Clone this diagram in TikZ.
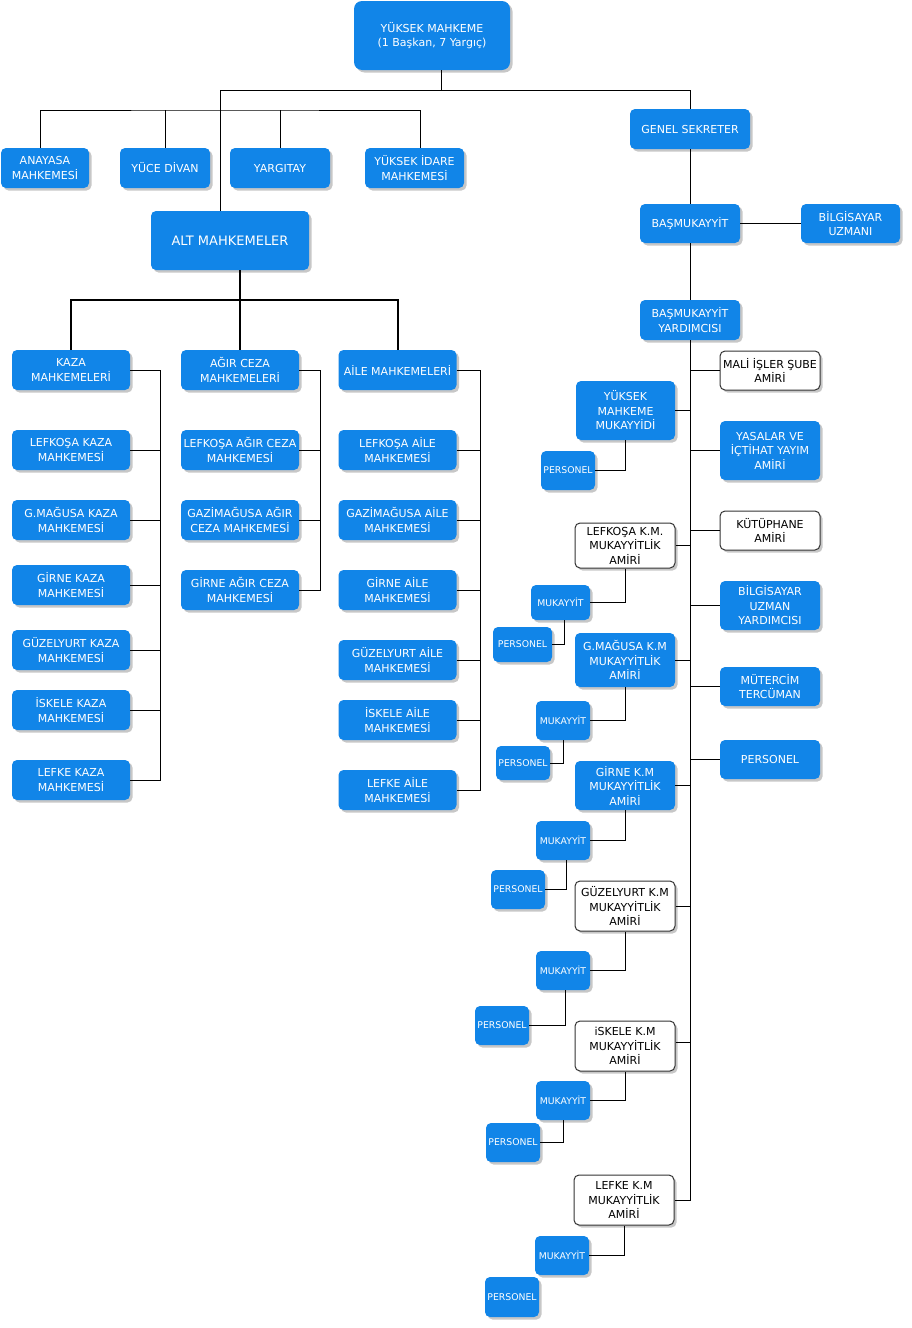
\documentclass[tikz,border=0pt]{standalone}
\usepackage{fontspec}
\setmainfont{DejaVu Sans}
\usepackage{tikz}
\usetikzlibrary{shadows}
\definecolor{boxblue}{HTML}{1185E8}
\definecolor{boxedge}{HTML}{333333}
\tikzset{
  court/.style={rectangle, rounded corners=5pt, fill=boxblue, text=white, align=center, inner sep=0pt,
    font=\fontsize{11}{14.5}\selectfont,
    drop shadow={shadow xshift=2.5pt, shadow yshift=-2.5pt, fill=black, opacity=0.22}},
  wbox/.style={court, fill=white, draw=boxedge, line width=1pt, text=black},
  col/.style={minimum width=118pt, minimum height=40pt},
  side/.style={minimum width=100pt},
  tiny/.style={court, font=\fontsize{9.3}{11}\selectfont, minimum width=54pt, minimum height=39pt},
  link/.style={draw=black, line width=1pt},
  heavy/.style={draw=black, line width=2pt}
}

\begin{document}
\begin{tikzpicture}[x=1pt, y=-1pt]
  \fill[white] (0,0) rectangle (911,1328);
  \useasboundingbox (0,0) rectangle (911,1328);

  \node[court, rounded corners=8pt, minimum width=156pt, minimum height=69pt] (yuksek) at (432,35.5) {YÜKSEK MAHKEME\\(1 Başkan, 7 Yargıç)};
  \node[court, minimum width=88pt, minimum height=40pt] (anayasa) at (45,168) {ANAYASA\\MAHKEMESİ};
  \node[court, minimum width=90pt, minimum height=40pt] (yuce) at (165,168) {YÜCE DİVAN};
  \node[court, minimum width=100pt, minimum height=40pt] (yargitay) at (280,168) {YARGITAY};
  \node[court, minimum width=99pt, minimum height=40pt] (idare) at (414.5,168) {YÜKSEK İDARE\\MAHKEMESİ};
  \node[court, font=\fontsize{13}{16}\selectfont, minimum width=158pt, minimum height=59pt] (alt) at (230,240.5) {ALT MAHKEMELER};

  \node[court, col] (kaza) at (71,370) {KAZA\\MAHKEMELERİ};
  \node[court, col] (lefkosakaza) at (71,450) {LEFKOŞA KAZA\\MAHKEMESİ};
  \node[court, col] (magusakaza) at (71,520) {G.MAĞUSA KAZA\\MAHKEMESİ};
  \node[court, col] (girnekaza) at (71,585) {GİRNE KAZA\\MAHKEMESİ};
  \node[court, col] (guzelyurtkaza) at (71,650) {GÜZELYURT KAZA\\MAHKEMESİ};
  \node[court, col] (iskelekaza) at (71,710) {İSKELE KAZA\\MAHKEMESİ};
  \node[court, col] (lefkekaza) at (71,780) {LEFKE KAZA\\MAHKEMESİ};

  \node[court, col] (agir) at (240,370) {AĞIR CEZA\\MAHKEMELERİ};
  \node[court, col] (lefkosaagir) at (240,450) {LEFKOŞA AĞIR CEZA\\MAHKEMESİ};
  \node[court, col] (magusaagir) at (240,520) {GAZİMAĞUSA AĞIR\\CEZA MAHKEMESİ};
  \node[court, col] (girneagir) at (240,590) {GİRNE AĞIR CEZA\\MAHKEMESİ};

  \node[court, col] (aile) at (397.5,370) {AİLE MAHKEMELERİ};
  \node[court, col] (lefkosaaile) at (397.5,450) {LEFKOŞA AİLE\\MAHKEMESİ};
  \node[court, col] (magusaaile) at (397.5,520) {GAZİMAĞUSA AİLE\\MAHKEMESİ};
  \node[court, col] (girneaile) at (397.5,590) {GİRNE AİLE\\MAHKEMESİ};
  \node[court, col] (guzelyurtaile) at (397.5,660) {GÜZELYURT AİLE\\MAHKEMESİ};
  \node[court, col] (iskeleaile) at (397.5,720) {İSKELE AİLE\\MAHKEMESİ};
  \node[court, col] (lefkeaile) at (397.5,790) {LEFKE AİLE\\MAHKEMESİ};

  \node[court, minimum width=120pt, minimum height=40pt] (gensek) at (690,129) {GENEL SEKRETER};
  \node[court, side, minimum height=39pt] (basmuk) at (690,223.5) {BAŞMUKAYYİT};
  \node[court, minimum width=99pt, minimum height=39pt] (bilgi) at (850.5,223.5) {BİLGİSAYAR\\UZMANI};
  \node[court, side, minimum height=40pt] (basmukyrd) at (690,320) {BAŞMUKAYYİT\\YARDIMCISI};
  \node[wbox, side, minimum height=39pt] (mali) at (770,370.5) {MALİ İŞLER ŞUBE\\AMİRİ};
  \node[court, side, minimum height=59pt] (yasalar) at (770,450.5) {YASALAR VE\\İÇTİHAT YAYIM\\AMİRİ};
  \node[wbox, side, minimum height=39pt] (kutup) at (770,530.5) {KÜTÜPHANE\\AMİRİ};
  \node[court, side, minimum height=49pt] (bilgiyrd) at (770,605.5) {BİLGİSAYAR\\UZMAN\\YARDIMCISI};
  \node[court, side, minimum height=39pt] (mutercim) at (770,686.5) {MÜTERCİM\\TERCÜMAN};
  \node[court, side, minimum height=39pt] (personel) at (770,759.5) {PERSONEL};

  \node[court, minimum width=99pt, minimum height=59pt] (ymmuk) at (625.5,410.5) {YÜKSEK\\MAHKEME\\MUKAYYİDİ};
  \node[tiny] (ymper) at (568,470.5) {PERSONEL};
  \node[wbox, side, minimum height=45pt] (lefkm) at (625,545.5) {LEFKOŞA K.M.\\MUKAYYİTLİK\\AMİRİ};
  \node[tiny, minimum width=59pt, minimum height=35pt] (lefmuk) at (560.5,602.5) {MUKAYYİT};
  \node[tiny, minimum width=59pt, minimum height=35pt] (lefper) at (522.5,644.5) {PERSONEL};
  \node[court, side, minimum height=54pt] (gmkm) at (625,660) {G.MAĞUSA K.M\\MUKAYYİTLİK\\AMİRİ};
  \node[tiny] (gmmuk) at (563,720.5) {MUKAYYİT};
  \node[tiny, minimum height=34pt] (gmper) at (523,763) {PERSONEL};
  \node[court, side, minimum height=49pt] (gkm) at (625,785.5) {GİRNE K.M\\MUKAYYİTLİK\\AMİRİ};
  \node[tiny] (gmuk) at (563,840.5) {MUKAYYİT};
  \node[tiny] (gper) at (518,889.5) {PERSONEL};
  \node[wbox, side, minimum height=50pt] (guzkm) at (625,906) {GÜZELYURT K.M\\MUKAYYİTLİK\\AMİRİ};
  \node[tiny] (guzmuk) at (563,970.5) {MUKAYYİT};
  \node[tiny] (guzper) at (502,1025.5) {PERSONEL};
  \node[wbox, side, minimum height=50pt] (iskkm) at (625,1046) {iSKELE K.M\\MUKAYYİTLİK\\AMİRİ};
  \node[tiny] (iskmuk) at (563,1100.5) {MUKAYYİT};
  \node[tiny] (iskper) at (513,1142.5) {PERSONEL};
  \node[wbox, side, minimum height=50pt] (lefkekm) at (624,1200) {LEFKE K.M\\MUKAYYİTLİK\\AMİRİ};
  \node[tiny] (lefkemuk) at (562,1255.5) {MUKAYYİT};
  \node[tiny, minimum height=40pt] (lefkeper) at (512,1297) {PERSONEL};

  \coordinate (j1) at (441,90);
  \coordinate (j2) at (220,110);
  \coordinate (j3) at (240,300);
  \draw[link] ([xshift=9pt]yuksek.south) -- (j1) -| (gensek.north);
  \draw[link] (j1) -| ([xshift=-10pt]alt.north);
  \draw[link] ([xshift=-5pt]anayasa.north) |- (j2) -| ([xshift=5.5pt]idare.north);
  \draw[link] (yuce.north) -- (yuce.north |- j2);
  \draw[link] (yargitay.north) -- (yargitay.north |- j2);
  \draw[heavy] (agir.north) -- (agir.north |- alt.south);
  \draw[heavy] (kaza.north) |- (j3) -| (aile.north);

  \coordinate (kbus) at (160,370);
  \draw[link] (kaza.east) -- (kbus) |- (lefkekaza.east);
  \draw[link] (lefkosakaza.east) -- (lefkosakaza.east -| kbus);
  \draw[link] (magusakaza.east) -- (magusakaza.east -| kbus);
  \draw[link] (girnekaza.east) -- (girnekaza.east -| kbus);
  \draw[link] (guzelyurtkaza.east) -- (guzelyurtkaza.east -| kbus);
  \draw[link] (iskelekaza.east) -- (iskelekaza.east -| kbus);

  \coordinate (abus) at (320,370);
  \draw[link] (agir.east) -- (abus) |- (girneagir.east);
  \draw[link] (lefkosaagir.east) -- (lefkosaagir.east -| abus);
  \draw[link] (magusaagir.east) -- (magusaagir.east -| abus);

  \coordinate (fbus) at (480,370);
  \draw[link] (aile.east) -- (fbus) |- (lefkeaile.east);
  \draw[link] (lefkosaaile.east) -- (lefkosaaile.east -| fbus);
  \draw[link] (magusaaile.east) -- (magusaaile.east -| fbus);
  \draw[link] (girneaile.east) -- (girneaile.east -| fbus);
  \draw[link] (guzelyurtaile.east) -- (guzelyurtaile.east -| fbus);
  \draw[link] (iskeleaile.east) -- (iskeleaile.east -| fbus);

  \draw[link] (gensek.south) -- (basmuk.north);
  \draw[link] (basmuk.east) -- (bilgi.west);
  \draw[link] (basmuk.south) -- (basmukyrd.north);
  \draw[link] (basmukyrd.south) |- (lefkekm.east);
  \draw[link] (mali.west) -- (mali.west -| basmukyrd.south);
  \draw[link] (yasalar.west) -- (yasalar.west -| basmukyrd.south);
  \draw[link] (kutup.west) -- (kutup.west -| basmukyrd.south);
  \draw[link] (bilgiyrd.west) -- (bilgiyrd.west -| basmukyrd.south);
  \draw[link] (mutercim.west) -- (mutercim.west -| basmukyrd.south);
  \draw[link] (personel.west) -- (personel.west -| basmukyrd.south);
  \draw[link] (ymmuk.east) -- (ymmuk.east -| basmukyrd.south);
  \draw[link] (lefkm.east) -- (lefkm.east -| basmukyrd.south);
  \draw[link] (gmkm.east) -- (gmkm.east -| basmukyrd.south);
  \draw[link] (gkm.east) -- (gkm.east -| basmukyrd.south);
  \draw[link] (guzkm.east) -- (guzkm.east -| basmukyrd.south);
  \draw[link] ([yshift=4pt]iskkm.east) -- ([yshift=4pt]iskkm.east -| basmukyrd.south);

  \draw[link] (ymmuk.south) |- (ymper.east);
  \draw[link] (lefkm.south) |- (lefmuk.east);
  \draw[link] ([xshift=4pt]lefmuk.south) |- (lefper.east);
  \draw[link] (gmkm.south) |- (gmmuk.east);
  \draw[link] (gmmuk.south) |- (gmper.east);
  \draw[link] (gkm.south) |- (gmuk.east);
  \draw[link] ([xshift=3pt]gmuk.south) |- (gper.east);
  \draw[link] (guzkm.south) |- (guzmuk.east);
  \draw[link] ([xshift=2pt]guzmuk.south) |- (guzper.east);
  \draw[link] (iskkm.south) |- (iskmuk.east);
  \draw[link] (iskmuk.south) |- (iskper.east);
  \draw[link] (lefkekm.south) |- (lefkemuk.east);
\end{tikzpicture}
\end{document}
